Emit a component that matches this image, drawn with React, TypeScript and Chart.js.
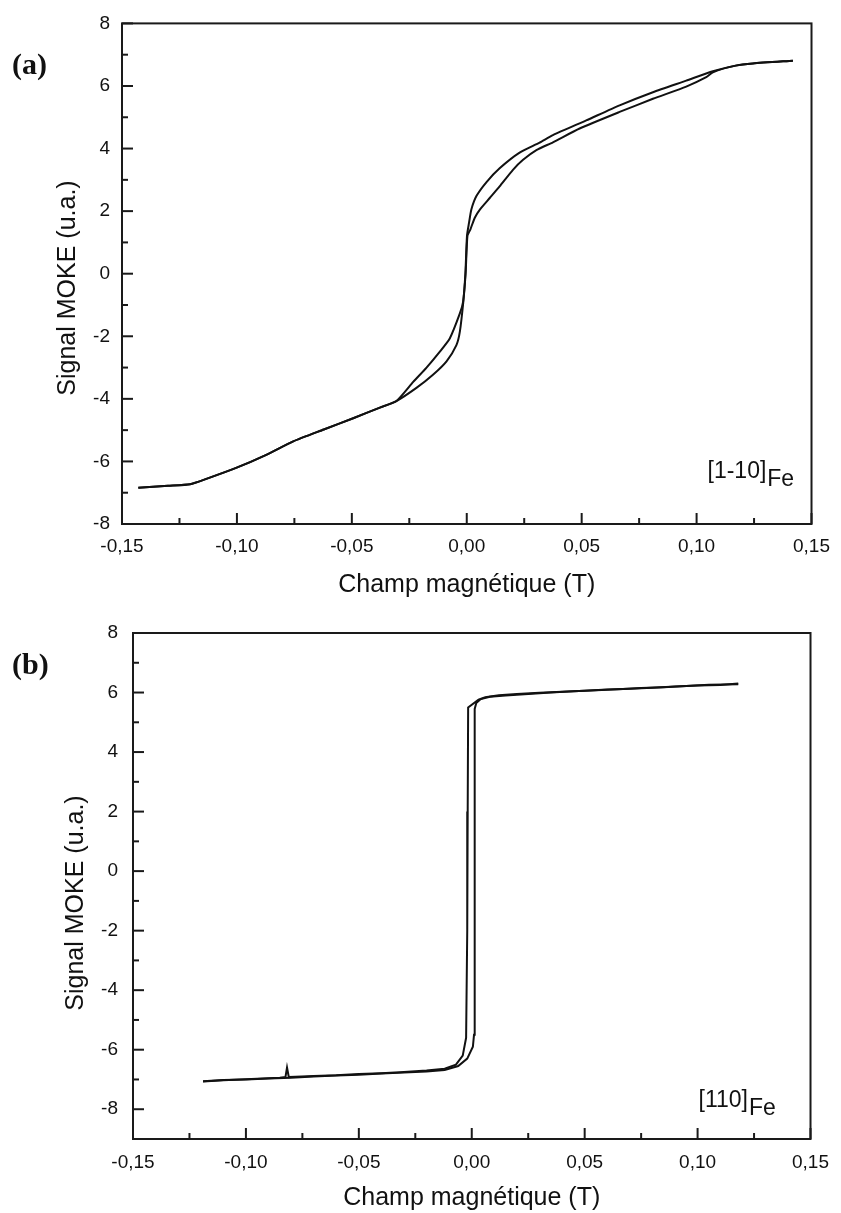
import React, { useEffect, useRef } from 'react';
import { Chart, registerables } from 'chart.js';

Chart.register(...registerables);

const SANS = 'Arial, "Liberation Sans", Helvetica, sans-serif';
const SERIF = '"Times New Roman", "Liberation Serif", serif';
const INK = '#111111';

// ---------- Panel (a): [1-10]Fe ----------
// descending branch (from +saturation to -saturation)
const aDescX = [0.1419, 0.1245, 0.117, 0.1071, 0.0955, 0.081, 0.0665, 0.052, 0.0375, 0.0317, 0.023, 0.0143, 0.0086, 0.0042, 0.002, 0.001, 0.0001, -0.0006, -0.0016, -0.003, -0.0074, -0.0117, -0.0175, -0.0233, -0.0306, -0.0378, -0.0494, -0.0622, -0.0755, -0.087, -0.1001, -0.113, -0.1204, -0.13, -0.1429];
const aDescY = [6.81, 6.72, 6.65, 6.47, 6.17, 5.80, 5.38, 4.90, 4.43, 4.19, 3.87, 3.37, 2.93, 2.48, 2.05, 1.63, 1.21, 0.0, -0.9, -1.27, -2.07, -2.49, -3.00, -3.46, -4.07, -4.28, -4.62, -4.98, -5.36, -5.78, -6.20, -6.55, -6.73, -6.78, -6.84];
// ascending branch (from -saturation to +saturation)
const aAscX = [-0.1429, -0.13, -0.1204, -0.113, -0.1001, -0.087, -0.0755, -0.0622, -0.0494, -0.0378, -0.0306, -0.0219, -0.0147, -0.0088, -0.0045, -0.003, -0.0015, -0.0005, 0.0003, 0.0016, 0.0035, 0.0057, 0.01, 0.0143, 0.0201, 0.0245, 0.0303, 0.0375, 0.0491, 0.0665, 0.081, 0.0955, 0.1042, 0.1071, 0.117, 0.1245, 0.1419];
const aAscY = [-6.84, -6.78, -6.73, -6.55, -6.20, -5.78, -5.36, -4.98, -4.62, -4.28, -4.07, -3.65, -3.23, -2.80, -2.28, -1.85, -0.9, 0.0, 1.21, 1.42, 1.79, 2.05, 2.42, 2.79, 3.32, 3.64, 3.95, 4.20, 4.64, 5.17, 5.59, 5.98, 6.28, 6.44, 6.65, 6.72, 6.81];

// ---------- Panel (b): [110]Fe ----------
const bDescX = [0.118, 0.11, 0.10, 0.09, 0.08, 0.07, 0.06, 0.05, 0.04, 0.03, 0.02, 0.012, 0.006, 0.003, -0.0016, -0.0018, -0.002, -0.0025, -0.004, -0.007, -0.012, -0.02, -0.03, -0.04, -0.05, -0.06, -0.07, -0.078, -0.081, -0.0818, -0.0825, -0.085, -0.09, -0.10, -0.11, -0.119];
const bDescY = [6.30, 6.25, 6.24, 6.20, 6.16, 6.13, 6.10, 6.06, 6.03, 5.99, 5.95, 5.91, 5.84, 5.76, 5.50, 2.0, -2.0, -5.6, -6.2, -6.5, -6.64, -6.70, -6.75, -6.79, -6.82, -6.86, -6.88, -6.91, -6.92, -6.60, -6.92, -6.94, -6.96, -6.99, -7.03, -7.07];
const bAscX = [-0.119, -0.11, -0.10, -0.09, -0.08, -0.07, -0.06, -0.05, -0.04, -0.03, -0.02, -0.012, -0.006, -0.002, 0.0005, 0.001, 0.0013, 0.0013, 0.002, 0.004, 0.008, 0.015, 0.025, 0.035, 0.045, 0.055, 0.065, 0.075, 0.085, 0.095, 0.105, 0.118];
const bAscY = [-7.06, -7.02, -7.00, -6.97, -6.94, -6.90, -6.87, -6.84, -6.80, -6.77, -6.73, -6.68, -6.55, -6.30, -5.90, -5.50, 0.0, 5.45, 5.65, 5.78, 5.86, 5.90, 5.95, 6.00, 6.04, 6.08, 6.11, 6.15, 6.18, 6.22, 6.26, 6.28];

// axis ranges / ticks
const xMin = -0.15;
const xMax = 0.15;
const xStep = 0.05;
const aYMin = -8;
const aYMax = 8;
const bYMin = -9;
const bYMax = 8;
const yStep = 2;

const xTitle = 'Champ magnétique (T)';
const yTitle = 'Signal MOKE (u.a.)';

const toPts = (xs: number[], ys: number[]) => xs.map((x, i) => ({ x, y: ys[i] }));

const fmtX = (v: any) => {
  const n = Number(v);
  if (Math.abs(n) < 1e-9) return '0,00';
  return n.toFixed(2).replace('.', ',');
};

const framePlugin = {
  id: 'frame',
  afterDraw(chart: any, _args: any, opts: any) {
    const { ctx, chartArea, scales } = chart;
    const { left, right, top, bottom } = chartArea;
    ctx.save();
    ctx.strokeStyle = '#1a1a1a';
    ctx.lineWidth = 2;
    ctx.strokeRect(left, top, right - left, bottom - top);

    const drawTicks = (scale: any, horizontal: boolean, step: number) => {
      const half = step / 2;
      const start = Math.ceil(scale.min / half - 1e-6);
      const end = Math.floor(scale.max / half + 1e-6);
      for (let k = start; k <= end; k++) {
        const v = k * half;
        const isMajor = Math.abs(v / step - Math.round(v / step)) < 1e-6;
        const len = isMajor ? 11 : 6;
        const p = scale.getPixelForValue(v);
        ctx.beginPath();
        if (horizontal) {
          ctx.moveTo(p, bottom);
          ctx.lineTo(p, bottom - len);
        } else {
          ctx.moveTo(left, p);
          ctx.lineTo(left + len, p);
        }
        ctx.stroke();
      }
    };
    drawTicks(scales.x, true, xStep);
    drawTicks(scales.y, false, yStep);

    // y axis title
    ctx.fillStyle = INK;
    ctx.font = `25px ${SANS}`;
    ctx.textAlign = 'center';
    ctx.textBaseline = 'middle';
    ctx.save();
    ctx.translate(opts.yTitleX, opts.yTitleY);
    ctx.rotate(-Math.PI / 2);
    ctx.fillText(yTitle, 0, 0);
    ctx.restore();

    // panel label
    ctx.font = `bold 30px ${SERIF}`;
    ctx.textAlign = 'left';
    ctx.textBaseline = 'alphabetic';
    ctx.fillText(opts.panel, 12, opts.panelY);

    // orientation annotation with subscript
    ctx.font = `23px ${SANS}`;
    const ax = right - opts.annRight;
    const ay = bottom - opts.annUp;
    ctx.fillText(opts.ann, ax, ay);
    const w = ctx.measureText(opts.ann).width;
    ctx.fillText('Fe', ax + w + 1, ay + 8);
    ctx.restore();
  },
};

function makeConfig(
  desc: { x: number; y: number }[],
  asc: { x: number; y: number }[],
  yMin: number,
  yMax: number,
  yWidth: number,
  xHeight: number,
  pad: { top: number; right: number },
  yPad: number,
  xPad: number,
  frameOpts: any,
  tension: number
): any {
  const ds = (label: string, data: any) => ({
    label,
    data,
    showLine: true,
    borderColor: INK,
    backgroundColor: INK,
    borderWidth: 2,
    pointRadius: 0,
    tension,
  });
  return {
    type: 'scatter',
    data: { datasets: [ds('desc', desc), ds('asc', asc)] },
    options: {
      responsive: false,
      animation: false,
      devicePixelRatio: 1,
      layout: { padding: { left: 0, top: pad.top, right: pad.right, bottom: 0 } },
      plugins: { legend: { display: false }, tooltip: { enabled: false }, frame: frameOpts },
      scales: {
        x: {
          type: 'linear',
          min: xMin,
          max: xMax,
          grid: { display: false, drawTicks: false },
          border: { display: false },
          ticks: {
            stepSize: xStep,
            callback: fmtX,
            color: INK,
            padding: xPad,
            maxRotation: 0,
            font: { family: SANS, size: 19 },
          },
          title: {
            display: true,
            text: xTitle,
            color: INK,
            padding: 0,
            font: { family: SANS, size: 25 },
          },
          afterFit: (s: any) => {
            s.height = xHeight;
          },
        },
        y: {
          type: 'linear',
          min: yMin,
          max: yMax,
          grid: { display: false, drawTicks: false },
          border: { display: false },
          ticks: {
            stepSize: yStep,
            includeBounds: false,
            color: INK,
            padding: yPad,
            font: { family: SANS, size: 19 },
          },
          afterFit: (s: any) => {
            s.width = yWidth;
          },
        },
      },
    },
    plugins: [framePlugin],
  };
}

export default function App() {
  const refA = useRef<HTMLCanvasElement>(null);
  const refB = useRef<HTMLCanvasElement>(null);

  useEffect(() => {
    const chartA = new Chart(
      refA.current as HTMLCanvasElement,
      makeConfig(
        toPts(aDescX, aDescY),
        toPts(aAscX, aAscY),
        aYMin,
        aYMax,
        122,
        76,
        { top: 19, right: 29 },
        12,
        11,
        { yTitleX: 68, yTitleY: 288, panel: '(a)', panelY: 74, ann: '[1-10]', annRight: 104, annUp: 46 },
        0.2
      )
    );
    const chartB = new Chart(
      refB.current as HTMLCanvasElement,
      makeConfig(
        toPts(bDescX, bDescY),
        toPts(bAscX, bAscY),
        bYMin,
        bYMax,
        133,
        74,
        { top: 27, right: 20 },
        15,
        12,
        { yTitleX: 76, yTitleY: 297, panel: '(b)', panelY: 68, ann: '[110]', annRight: 112, annUp: 32 },
        0
      )
    );
    return () => {
      chartA.destroy();
      chartB.destroy();
    };
  }, []);

  return (
    <div style={{ position: 'absolute', left: 0, top: 0, width: 841, height: 1213, background: '#ffffff' }}>
      <canvas ref={refA} width={841} height={600} style={{ position: 'absolute', left: 0, top: 0, display: 'block' }} />
      <canvas ref={refB} width={841} height={607} style={{ position: 'absolute', left: 0, top: 606, display: 'block' }} />
    </div>
  );
}
